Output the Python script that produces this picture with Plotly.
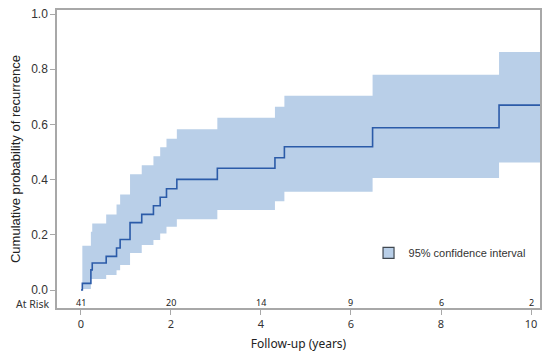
import plotly.graph_objects as go

# Kaplan-Meier style cumulative incidence
event_times = [0.03, 0.22, 0.25, 0.56, 0.79, 0.87, 1.09, 1.35, 1.61, 1.76, 1.90, 2.13, 3.03, 4.31, 4.52, 6.48, 9.29]
estimate    = [0.024, 0.073, 0.098, 0.122, 0.152, 0.183, 0.244, 0.274, 0.305, 0.336, 0.367, 0.401, 0.441, 0.479, 0.519, 0.588, 0.670]
ci_lower    = [0.004, 0.040, 0.040, 0.054, 0.072, 0.091, 0.134, 0.163, 0.181, 0.205, 0.229, 0.256, 0.290, 0.322, 0.356, 0.406, 0.462]
ci_upper    = [0.160, 0.211, 0.241, 0.274, 0.310, 0.346, 0.419, 0.452, 0.485, 0.517, 0.548, 0.582, 0.624, 0.664, 0.704, 0.780, 0.862]
end_time = 10.2

at_risk_times = [0, 2, 4, 6, 8, 10]
at_risk_counts = ["41", "20", "14", "9", "6", "2"]

x_ticks = [0, 2, 4, 6, 8, 10]
y_ticks = [0.0, 0.2, 0.4, 0.6, 0.8, 1.0]
y_tick_labels = ["0.0", "0.2", "0.4", "0.6", "0.8", "1.0"]

band_color = "#b9cfe8"
line_color = "#2b5ba8"
axis_color = "#a8a8a8"

bt = event_times + [end_time]
bl = ci_lower + [ci_lower[-1]]
bu = ci_upper + [ci_upper[-1]]
kt = [0] + event_times + [end_time]
ke = [0] + estimate + [estimate[-1]]

fig = go.Figure()
fig.add_trace(go.Scatter(x=bt, y=bl, mode="lines", line=dict(width=0, shape="hv", color=band_color),
                         showlegend=False, hoverinfo="skip"))
fig.add_trace(go.Scatter(x=bt, y=bu, mode="lines", line=dict(width=0, shape="hv", color=band_color),
                         fill="tonexty", fillcolor=band_color, showlegend=False, hoverinfo="skip"))
fig.add_trace(go.Scatter(x=kt, y=ke, mode="lines", line=dict(width=1.6, shape="hv", color=line_color),
                         showlegend=False))
fig.add_trace(go.Scatter(x=[None], y=[None], mode="markers", name="95% confidence interval",
                         marker=dict(symbol="square", size=11, color=band_color,
                                     line=dict(color="#404850", width=1.2))))

for t, c in zip(at_risk_times, at_risk_counts):
    fig.add_annotation(x=t, y=-0.047, xref="x", yref="y", text=c, showarrow=False,
                       font=dict(family="Noto Sans", size=9, color="#222222"))
fig.add_annotation(x=-0.012, y=-0.05, xref="paper", yref="y", text="At Risk", showarrow=False,
                   xanchor="right", font=dict(family="Noto Sans", size=10.5, color="#333333"))

# the page body has an 8px default margin, so the figure is sized/offset to compensate
fig.update_layout(
    width=542, height=353,
    margin=dict(l=49, r=10, t=2, b=53, autoexpand=False),
    paper_bgcolor="white", plot_bgcolor="white",
    legend=dict(x=0.645, y=0.185, xanchor="left", yanchor="middle", bgcolor="rgba(0,0,0,0)",
                itemwidth=30, font=dict(family="Liberation Sans", size=11, color="#333333")),
    xaxis=dict(range=[-0.533, 10.2], tickvals=x_ticks, ticks="outside", ticklen=5, tickcolor=axis_color,
               showline=True, linecolor=axis_color, linewidth=1.5, mirror=True, showgrid=False, zeroline=False,
               automargin=False, ticklabeloverflow="allow",
               tickfont=dict(family="Noto Sans", size=11, color="#333333"),
               title=dict(text="Follow-up (years)", font=dict(family="Noto Sans", size=12, color="#222222"), standoff=10)),
    yaxis=dict(range=[-0.0652, 1.0145], tickvals=y_ticks, ticktext=y_tick_labels, ticks="outside", ticklen=5,
               tickcolor=axis_color, showline=True, linecolor=axis_color, linewidth=1.5, mirror=True,
               showgrid=False, zeroline=False, automargin=False, ticklabeloverflow="allow",
               tickfont=dict(family="Liberation Sans", size=12, color="#333333"),
               title=dict(text="Cumulative probability of recurrence",
                          font=dict(family="Liberation Sans", size=13, color="#222222"), standoff=12)),
)

fig.write_html("out.html")
